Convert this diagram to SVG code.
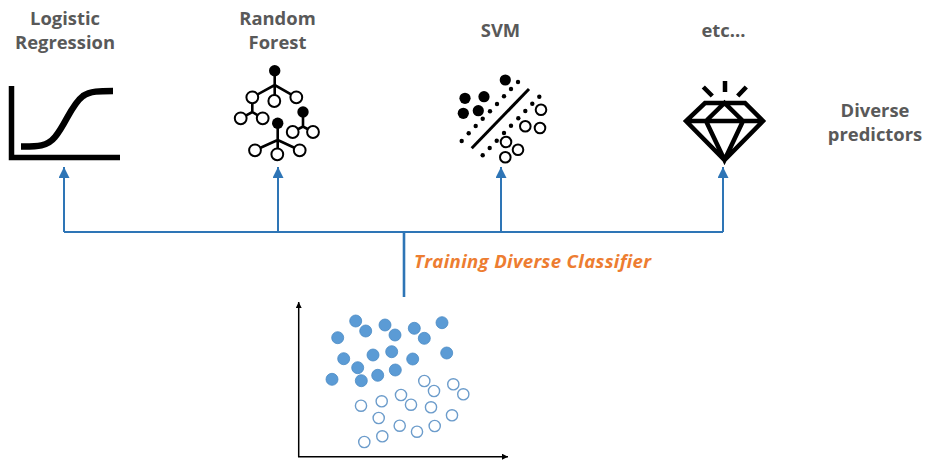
<svg xmlns="http://www.w3.org/2000/svg" width="935" height="462" viewBox="0 0 935 462">
<style>
text{font-family:"Open Sans","Noto Sans","Liberation Sans",sans-serif;font-weight:700;fill:#595959;font-size:18.4px;text-anchor:middle}
.lb{font-size:18.6px;font-style:italic;fill:#ED7D31;text-anchor:start}
.k{stroke:#000;fill:none}
.kf{fill:#000;stroke:none}
.o{fill:#fff;stroke:#000;stroke-width:2}
.conn{stroke:#2E75B6;stroke-width:2;fill:none}
.b circle{fill:#5B9BD5;stroke:#4A8AC4;stroke-width:.8;}
.w circle{fill:#fff;stroke:#6C9CCB;stroke-width:1.4}
.d circle{fill:#000}
</style>
<defs>
<marker id="ah" markerUnits="userSpaceOnUse" markerWidth="12" markerHeight="12" refX="11" refY="5.5" orient="auto"><path d="M0 0L11 5.5L0 11Z" fill="#2E75B6"/></marker>
<marker id="ak" markerUnits="userSpaceOnUse" markerWidth="7" markerHeight="7" refX="6" refY="3" orient="auto"><path d="M0 0L6 3L0 6Z" fill="#000"/></marker>
</defs>
<g id="connectors">
<path class="conn" d="M64 232H723"/>
<path class="conn" d="M64 232V167" marker-end="url(#ah)"/>
<path class="conn" d="M278 232V167" marker-end="url(#ah)"/>
<path class="conn" d="M501 232V167" marker-end="url(#ah)"/>
<path class="conn" d="M723 232V167" marker-end="url(#ah)"/>
<path class="conn" style="stroke-width:2.6" d="M404 232V297"/>
</g>
<g id="node-logistic">
<text x="65" y="25">Logistic</text>
<text x="65" y="49">Regression</text>
<path class="k" stroke-width="5.5" d="M11.500 86V157.500H120"/>
<path class="k" stroke-width="6.500" d="M21 146.500C36 146.500 47 147 55 137C66 124 71 105 83 96C90 91 100 91 113 91"/>
</g>
<g id="node-forest">
<text x="277.500" y="25">Random</text>
<text x="277.500" y="49">Forest</text>
<path class="k" stroke-width="2.600" d="M274.700 71V101M252.300 97.300L274.700 85L296.300 97.300M252.300 97V113M240.700 118.300L252.300 112L262.700 118.300M303 112V126.700M292.700 132L303 126.500L313 132M277.700 123V154M255 150.300L277.700 140L299.700 150.300"/>
<circle class="kf" cx="274.700" cy="70.700" r="5.700"/>
<circle class="kf" cx="303" cy="112" r="5.700"/>
<circle class="kf" cx="277.700" cy="123.300" r="5.700"/>
<circle class="o" cx="252.300" cy="97.300" r="5.900"/>
<circle class="o" cx="274.300" cy="101" r="5.900"/>
<circle class="o" cx="296.300" cy="97.300" r="5.900"/>
<circle class="o" cx="240.700" cy="118.300" r="5.900"/>
<circle class="o" cx="262.700" cy="118.300" r="5.900"/>
<circle class="o" cx="292.700" cy="132" r="5.900"/>
<circle class="o" cx="313" cy="132" r="5.900"/>
<circle class="o" cx="255" cy="150.300" r="5.900"/>
<circle class="o" cx="277.300" cy="154.300" r="5.900"/>
<circle class="o" cx="299.700" cy="150.300" r="5.900"/>
</g>
<g id="node-svm">
<text x="500.500" y="36.500">SVM</text>
<path class="k" stroke-width="3" d="M529 89L471.700 148.300"/>
<circle class="kf" cx="505.300" cy="80" r="5.600"/>
<circle class="kf" cx="465" cy="98.300" r="5.600"/>
<circle class="kf" cx="484" cy="96.700" r="5.600"/>
<circle class="kf" cx="463.300" cy="113.300" r="5.600"/>
<circle class="kf" cx="478.300" cy="110.700" r="5.600"/>
<g class="d">
<circle cx="518" cy="82" r="2.200"/><circle cx="511" cy="89" r="2.200"/><circle cx="504" cy="96.300" r="2.200"/><circle cx="497" cy="104" r="2.200"/><circle cx="490" cy="111.300" r="2.200"/><circle cx="482.700" cy="118.700" r="2.200"/><circle cx="475.700" cy="126" r="2.200"/><circle cx="468.700" cy="133.300" r="2.200"/><circle cx="461.700" cy="141" r="2.200"/>
<circle cx="539.300" cy="96.700" r="2.200"/><circle cx="532.300" cy="103.700" r="2.200"/><circle cx="525.300" cy="111" r="2.200"/><circle cx="518.300" cy="118.300" r="2.200"/><circle cx="511" cy="125.700" r="2.200"/><circle cx="504" cy="133" r="2.200"/><circle cx="496.700" cy="140.700" r="2.200"/><circle cx="489.700" cy="148" r="2.200"/><circle cx="482.700" cy="155.300" r="2.200"/>
</g>
<circle class="o" cx="541" cy="109.700" r="5.300"/>
<circle class="o" cx="540" cy="128" r="5.300"/>
<circle class="o" cx="525.300" cy="126.300" r="5.300"/>
<circle class="o" cx="506" cy="142" r="5.300"/>
<circle class="o" cx="518" cy="149.700" r="5.300"/>
<circle class="o" cx="505.300" cy="157.300" r="5.300"/>
</g>
<g id="node-etc">
<text x="723.500" y="36.500">etc...</text>
<path class="k" stroke-width="4.500" d="M725 81V92M703.300 87L712.300 96M746.300 87L737.700 96"/>
<path class="k" stroke-width="4.500" stroke-linejoin="miter" d="M705 103H745L763 121L724.500 160L686 121ZM686 121H763M706 121L724.500 103L743 121M706 121L724.500 160L743 121"/>
</g>
<g id="node-diverse">
<text x="875" y="117">Diverse</text>
<text x="875" y="141">predictors</text>
</g>
<g id="label">
<text class="lb" x="414" y="268" textLength="237" lengthAdjust="spacing">Training Diverse Classifier</text>
</g>
<g id="node-scatter">
<path stroke="#000" stroke-width="1.500" fill="none" d="M298.700 457V302" marker-end="url(#ak)"/>
<path stroke="#000" stroke-width="1.500" fill="none" d="M298 456.700H508" marker-end="url(#ak)"/>
<g class="b">
<circle cx="355.700" cy="321" r="6"/><circle cx="365.700" cy="331" r="6"/><circle cx="385" cy="325" r="6"/><circle cx="395" cy="335" r="6"/><circle cx="414.300" cy="328.300" r="6"/><circle cx="424.300" cy="338.300" r="6"/><circle cx="442" cy="322.700" r="6"/><circle cx="337.700" cy="337.700" r="6"/><circle cx="343.700" cy="358.700" r="6"/><circle cx="373" cy="355" r="6"/><circle cx="391.700" cy="351.700" r="6"/><circle cx="412.700" cy="359" r="6"/><circle cx="446.700" cy="353" r="6"/><circle cx="357.700" cy="367.700" r="6"/><circle cx="377.700" cy="375.300" r="6"/><circle cx="395.300" cy="370" r="6"/><circle cx="332" cy="379.300" r="6"/><circle cx="361.300" cy="380.700" r="6"/>
</g>
<g class="w">
<circle cx="424.300" cy="381" r="5.600"/><circle cx="434" cy="391" r="5.600"/><circle cx="453.300" cy="384.300" r="5.600"/><circle cx="463.300" cy="394.300" r="5.600"/><circle cx="401" cy="395" r="5.600"/><circle cx="381.700" cy="401.300" r="5.600"/><circle cx="361" cy="405.700" r="5.600"/><circle cx="411" cy="404.700" r="5.600"/><circle cx="431" cy="407.300" r="5.600"/><circle cx="452" cy="415.300" r="5.600"/><circle cx="378.700" cy="418" r="5.600"/><circle cx="399.700" cy="425.700" r="5.600"/><circle cx="417" cy="431.700" r="5.600"/><circle cx="434.700" cy="426" r="5.600"/><circle cx="382.300" cy="436.300" r="5.600"/><circle cx="364.300" cy="442" r="5.600"/>
</g>
</g>
</svg>
